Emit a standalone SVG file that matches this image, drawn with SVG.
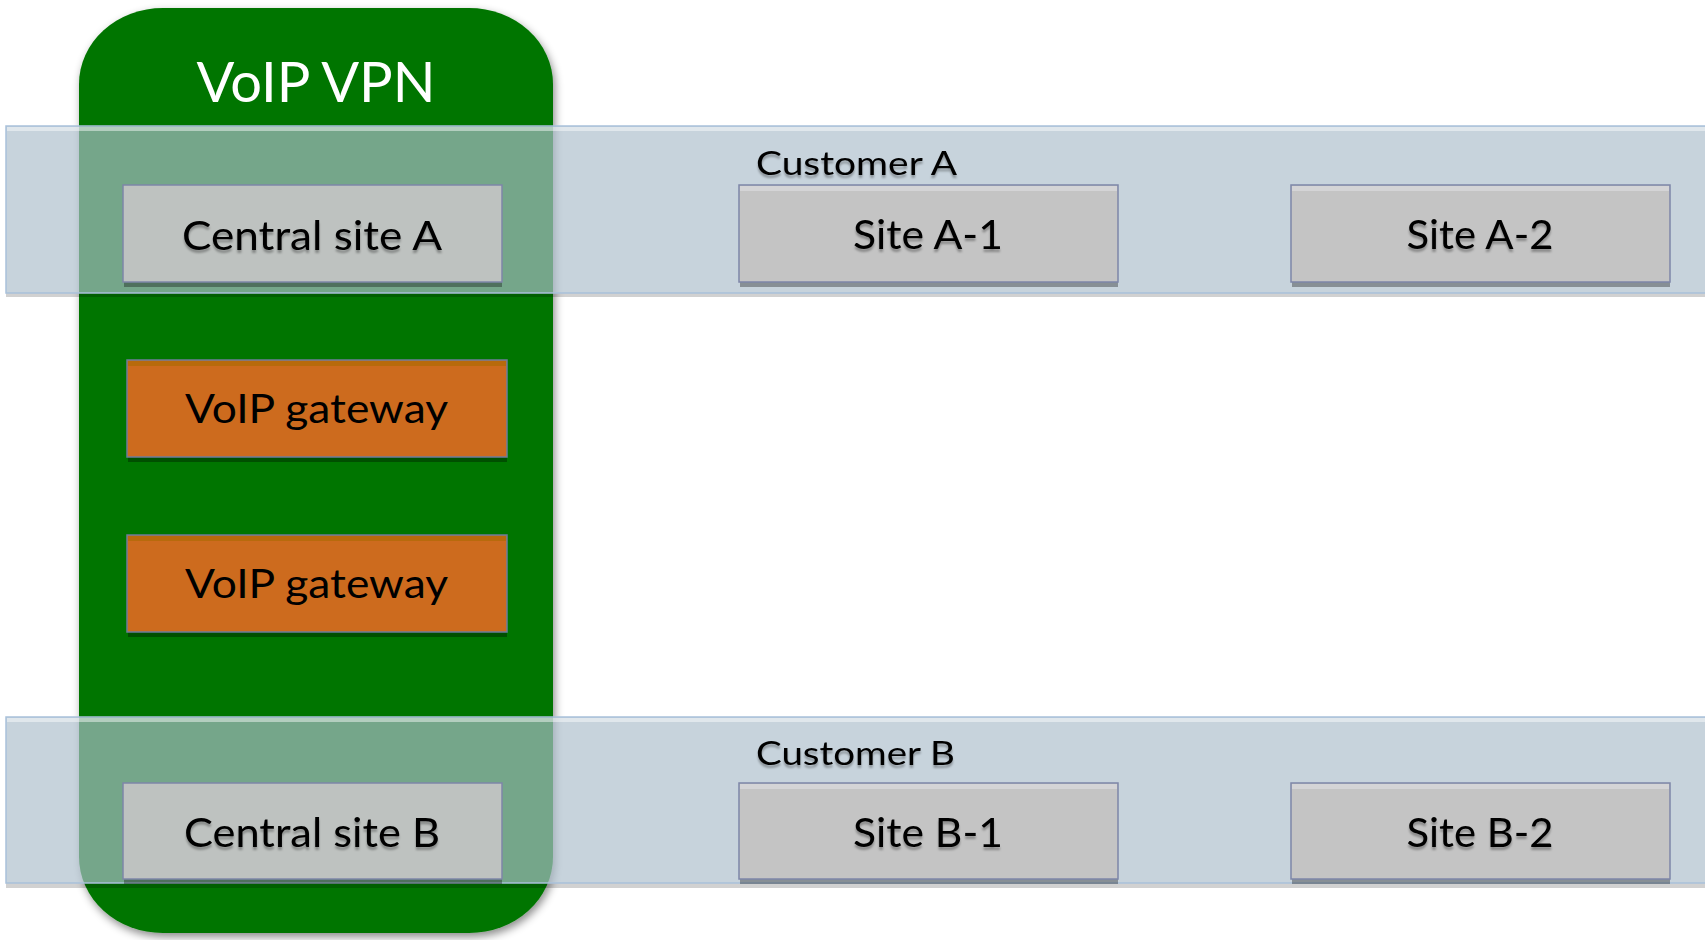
<svg xmlns="http://www.w3.org/2000/svg" width="1705" height="940" viewBox="0 0 1705 940">
<style>
.lbl{font-family:Lato,"Open Sans","Liberation Sans",sans-serif;fill:#000;}
.box{font-size:40px;text-anchor:middle;}
.cust{font-size:33.5px;}
.band{fill:rgb(172,190,204);fill-opacity:0.68;stroke:#A9C1DA;stroke-width:1.5;}
.bandhi{fill:#FFFFFF;fill-opacity:0.45;}
.bandsh{fill:#000;fill-opacity:0.18;}
.site{fill:#C4C4C4;stroke:#7E86A8;stroke-width:1.5;}
.csite{fill:#C4C4C4;fill-opacity:0.93;stroke:#7E86A8;stroke-width:1.5;}
.sitehi{fill:#D4D4D6;}
.gw{fill:#CD6B1E;stroke:#6E7C9A;stroke-width:1.5;}
.gwhi{fill:#B86A0C;}
.sh{fill:#000;fill-opacity:0.32;}
</style>
<defs>
<filter id="gshadow" x="-10%" y="-10%" width="120%" height="120%">
<feDropShadow dx="2" dy="4" stdDeviation="4" flood-color="#000" flood-opacity="0.45"/>
</filter>
<filter id="tshadow" x="-10%" y="-20%" width="120%" height="160%">
<feDropShadow dx="0" dy="3" stdDeviation="1" flood-color="#000" flood-opacity="0.3"/>
</filter>
</defs>

<g id="voip-vpn">
<rect x="79" y="8" width="474" height="925" rx="84" ry="76" fill="#007500" filter="url(#gshadow)"/>
<text x="316" y="102" font-family="Lato,'Open Sans','Liberation Sans',sans-serif" font-size="56" fill="#FFFFFF" text-anchor="middle" textLength="239" lengthAdjust="spacingAndGlyphs">VoIP VPN</text>
</g>

<g id="customer-a">
<rect class="bandsh" x="6" y="293" width="1705" height="4"/>
<rect class="band" x="6" y="126" width="1710" height="167"/>
<rect class="bandhi" x="7" y="127" width="1705" height="4"/>
<text class="lbl cust" x="756" y="175" filter="url(#tshadow)" textLength="201" lengthAdjust="spacingAndGlyphs">Customer A</text>
</g>

<g id="customer-b">
<rect class="bandsh" x="6" y="883" width="1705" height="5"/>
<rect class="band" x="6" y="717" width="1710" height="166"/>
<rect class="bandhi" x="7" y="718" width="1705" height="4"/>
<text class="lbl cust" x="756" y="765" filter="url(#tshadow)" textLength="199" lengthAdjust="spacingAndGlyphs">Customer B</text>
</g>

<g id="central-site-a">
<rect class="sh" x="124" y="282" width="378" height="5"/>
<rect class="csite" x="123" y="185" width="379" height="97"/>
<text class="lbl box" x="312" y="250" filter="url(#tshadow)" textLength="260" lengthAdjust="spacingAndGlyphs">Central site A</text>
</g>

<g id="site-a-1">
<rect class="sh" x="740" y="282" width="378" height="5"/>
<rect class="site" x="739" y="185" width="379" height="97"/>
<rect class="sitehi" x="740" y="186" width="377" height="5"/>
<text class="lbl box" x="928" y="249" filter="url(#tshadow)" textLength="150" lengthAdjust="spacingAndGlyphs">Site A-1</text>
</g>

<g id="site-a-2">
<rect class="sh" x="1292" y="282" width="378" height="5"/>
<rect class="site" x="1291" y="185" width="379" height="97"/>
<rect class="sitehi" x="1292" y="186" width="377" height="5"/>
<text class="lbl box" x="1480" y="249" filter="url(#tshadow)" textLength="147" lengthAdjust="spacingAndGlyphs">Site A-2</text>
</g>

<g id="voip-gateway-1">
<rect class="sh" x="128" y="457" width="379" height="5"/>
<rect class="gw" x="127" y="360" width="380" height="97"/>
<rect class="gwhi" x="128" y="361" width="378" height="5"/>
<text class="lbl box" x="316.5" y="423" textLength="263" lengthAdjust="spacingAndGlyphs">VoIP gateway</text>
</g>

<g id="voip-gateway-2">
<rect class="sh" x="128" y="632" width="379" height="5"/>
<rect class="gw" x="127" y="535" width="380" height="97"/>
<rect class="gwhi" x="128" y="536" width="378" height="5"/>
<text class="lbl box" x="316.5" y="598" textLength="263" lengthAdjust="spacingAndGlyphs">VoIP gateway</text>
</g>

<g id="central-site-b">
<rect class="sh" x="124" y="879" width="378" height="5"/>
<rect class="csite" x="123" y="783" width="379" height="96"/>
<text class="lbl box" x="312" y="847" filter="url(#tshadow)" textLength="256" lengthAdjust="spacingAndGlyphs">Central site B</text>
</g>

<g id="site-b-1">
<rect class="sh" x="740" y="879" width="378" height="5"/>
<rect class="site" x="739" y="783" width="379" height="96"/>
<rect class="sitehi" x="740" y="784" width="377" height="5"/>
<text class="lbl box" x="928" y="847" filter="url(#tshadow)" textLength="150" lengthAdjust="spacingAndGlyphs">Site B-1</text>
</g>

<g id="site-b-2">
<rect class="sh" x="1292" y="879" width="378" height="5"/>
<rect class="site" x="1291" y="783" width="379" height="96"/>
<rect class="sitehi" x="1292" y="784" width="377" height="5"/>
<text class="lbl box" x="1480" y="847" filter="url(#tshadow)" textLength="147" lengthAdjust="spacingAndGlyphs">Site B-2</text>
</g>

<g id="connectors"></g>
</svg>
